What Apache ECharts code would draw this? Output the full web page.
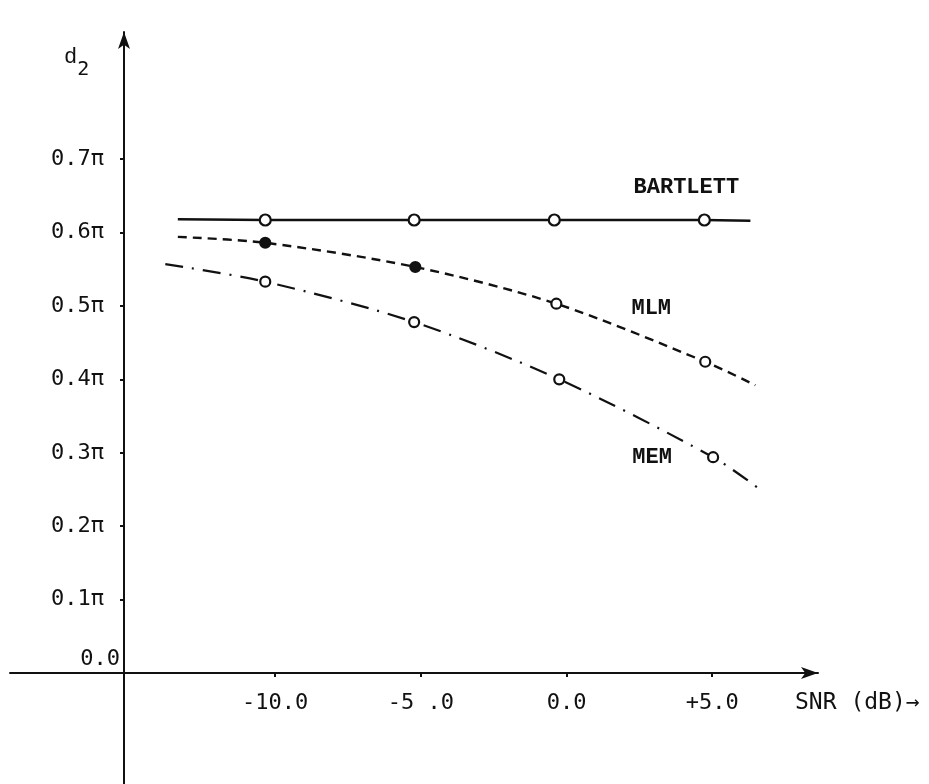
<!DOCTYPE html>
<html>
<head>
<meta charset="utf-8">
<script src="https://cdn.jsdelivr.net/npm/echarts@6/dist/echarts.min.js"></script>
<style>
  html, body { margin: 0; padding: 0; background: #fff; }
  #chart { width: 929px; height: 784px; }
</style>
</head>
<body>
<div id="chart"></div>
<script>
// ---- data (x in dB, y in units of pi) ----
const xTickValues = [-10, -5, 0, 5];
const xTickLabels = ['-10.0', '-5 .0', '0.0', '+5.0'];
const yTickValues = [0, 0.1, 0.2, 0.3, 0.4, 0.5, 0.6, 0.7];
const yTickLabels = ['0.0', '0.1\u03c0', '0.2\u03c0', '0.3\u03c0', '0.4\u03c0', '0.5\u03c0', '0.6\u03c0', '0.7\u03c0'];

const bartlettX = [-13.34, -10.34, -5.23, -0.42, 4.73, 6.31];
const bartlettY = [0.618, 0.617, 0.617, 0.617, 0.617, 0.616];
const bartlettMarks = ['none', 'open', 'open', 'open', 'open', 'none'];

const mlmX = [-13.34, -10.34, -5.19, -0.35, 4.76, 6.48];
const mlmY = [0.594, 0.586, 0.553, 0.503, 0.424, 0.392];
const mlmMarks = ['none', 'filled', 'filled', 'open', 'open', 'none'];

const memX = [-13.77, -10.34, -5.23, -0.25, 5.03, 6.54];
const memY = [0.557, 0.533, 0.478, 0.400, 0.294, 0.253];
const memMarks = ['none', 'open', 'open', 'open', 'open', 'none'];

const seriesNames = ['BARTLETT', 'MLM', 'MEM'];
const xAxisTitle = 'SNR (dB)\u2192';

// ---- styling ----
const INK = '#111';
const tickFont = 'DejaVu Sans Mono';
const typeFont = 'Liberation Mono';

function buildData(xs, ys, marks, labelIdx, labelText, labelOffset) {
  return xs.map(function (x, i) {
    const m = marks[i];
    const item = { value: [x, ys[i]] };
    if (m === 'none') {
      item.symbol = 'none';
    } else {
      item.symbol = 'circle';
      item.itemStyle = {
        color: m === 'filled' ? INK : '#fff',
        borderColor: INK,
        borderWidth: 2.2
      };
    }
    if (i === labelIdx) {
      item.label = {
        show: true,
        position: 'inside',
        offset: labelOffset,
        formatter: labelText,
        fontFamily: typeFont,
        fontWeight: 'bold',
        fontSize: 22,
        color: INK
      };
    }
    return item;
  });
}

const chart = echarts.init(document.getElementById('chart'), null, { renderer: 'canvas' });

const option = {
  backgroundColor: '#fff',
  animation: false,
  grid: { left: 10, right: 111, top: 32, bottom: 0, containLabel: false, outerBoundsMode: 'none' },
  xAxis: {
    type: 'value',
    min: -19.1,
    max: 8.63,
    offset: -111,
    splitLine: { show: false },
    axisLine: {
      show: true,
      onZero: false,
      symbol: ['none', 'arrow'],
      symbolSize: [9, 17],
      lineStyle: { color: INK, width: 2 }
    },
    axisTick: {
      show: true,
      customValues: xTickValues,
      length: 4,
      lineStyle: { color: INK, width: 2 }
    },
    axisLabel: {
      show: true,
      customValues: xTickValues,
      margin: 19,
      fontFamily: tickFont,
      fontSize: 22,
      color: INK,
      formatter: function (v) {
        const i = xTickValues.indexOf(Math.round(v * 100) / 100);
        return i >= 0 ? xTickLabels[i] : '';
      }
    }
  },
  yAxis: {
    type: 'value',
    min: -0.151,
    max: 0.873,
    offset: -114,
    splitLine: { show: false },
    axisLine: {
      show: true,
      onZero: false,
      symbol: ['none', 'arrow'],
      symbolSize: [9, 17],
      lineStyle: { color: INK, width: 2 }
    },
    axisTick: {
      show: true,
      customValues: yTickValues.slice(1),
      length: 4,
      lineStyle: { color: INK, width: 2 }
    },
    axisLabel: {
      show: true,
      customValues: yTickValues,
      margin: 20,
      fontFamily: tickFont,
      fontSize: 22,
      color: INK,
      formatter: function (v) {
        const i = yTickValues.indexOf(Math.round(v * 100) / 100);
        if (i < 0) return '';
        if (i === 0) return '{z|' + yTickLabels[0] + '}';
        return yTickLabels[i];
      },
      rich: {
        z: {
          fontFamily: tickFont,
          fontSize: 22,
          color: INK,
          padding: [0, -16, 28, 0]
        }
      }
    }
  },
  graphic: [
    {
      type: 'text',
      left: 64,
      top: 46,
      style: {
        text: '{a|d}{b|2}',
        rich: {
          a: { fontFamily: typeFont, fontSize: 22, fill: INK, verticalAlign: 'top' },
          b: { fontFamily: tickFont, fontSize: 20, fill: INK, padding: [14, 0, 0, 0] }
        }
      }
    },
    {
      type: 'text',
      left: 795,
      top: 692,
      style: {
        text: xAxisTitle,
        fontFamily: tickFont,
        fontSize: 23,
        fill: INK
      }
    }
  ],
  series: [
    {
      name: seriesNames[0],
      type: 'line',
      smooth: false,
      symbolSize: 11,
      showAllSymbol: true,
      lineStyle: { color: INK, width: 2.4, type: 'solid' },
      itemStyle: { color: '#fff', borderColor: INK, borderWidth: 2.2 },
      data: buildData(bartlettX, bartlettY, bartlettMarks, 4, seriesNames[0], [-18, -33]),
      z: 3
    },
    {
      name: seriesNames[1],
      type: 'line',
      smooth: 0.3,
      symbolSize: 10,
      showAllSymbol: true,
      lineStyle: { color: INK, width: 2.4, type: [9, 6] },
      itemStyle: { color: '#fff', borderColor: INK, borderWidth: 2.2 },
      data: buildData(mlmX, mlmY, mlmMarks, 4, seriesNames[1], [-54, -53]),
      z: 3
    },
    {
      name: seriesNames[2],
      type: 'line',
      smooth: 0.3,
      symbolSize: 10,
      showAllSymbol: true,
      lineStyle: { color: INK, width: 2.2, type: [18, 9, 2, 9] },
      itemStyle: { color: '#fff', borderColor: INK, borderWidth: 2.2 },
      data: buildData(memX, memY, memMarks, 4, seriesNames[2], [-61, 0]),
      z: 3
    }
  ]
};

chart.setOption(option);
</script>
</body>
</html>
